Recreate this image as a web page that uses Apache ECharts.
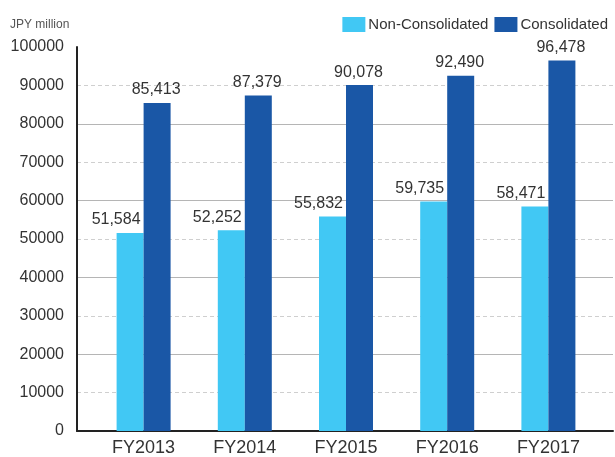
<!DOCTYPE html>
<html><head><meta charset="utf-8">
<script src="https://cdn.jsdelivr.net/npm/echarts@6/dist/echarts.min.js"></script>
<style>html,body{margin:0;padding:0;background:#fff}#c{width:615px;height:457px}</style>
</head><body><div id="c"></div>
<script>
const categories = ['FY2013','FY2014','FY2015','FY2016','FY2017'];
const nonConsolidated = [51584, 52252, 55832, 59735, 58471];
const consolidated = [85413, 87379, 90078, 92490, 96478];
const seriesNames = ['Non-Consolidated','Consolidated'];
const colors = ['#41c8f4','#1a57a6'];
const unitLabel = 'JPY million';

const fmt = v => String(v).replace(/\B(?=(\d{3})+(?!\d))/g, ',');
const font = "'Liberation Sans', Arial, sans-serif";
const chart = echarts.init(document.getElementById('c'));
chart.setOption({
  animation:false,
  textStyle:{fontFamily:font},
  graphic:[{type:'text', left:10, top:19, style:{text:unitLabel, fontSize:12, fill:'#555', fontFamily:font}}],
  legend:{
    right:2, top:12, itemWidth:23, itemHeight:15, itemGap:6,
    textStyle:{fontSize:15, color:'#333', padding:[0,0,0,-2]},
    data:seriesNames, icon:'rect'
  },
  grid:[
    {left:93, right:16, top:47, bottom:26},
    {left:77, right:2, top:47, bottom:26}
  ],
  xAxis:[
    {type:'category', gridIndex:0, data:categories,
     axisLine:{show:false}, axisTick:{show:false},
     axisLabel:{fontSize:18, color:'#333', margin:8}},
    {type:'value', gridIndex:1, min:0, max:1,
     axisLine:{show:true, onZero:false, lineStyle:{color:'#222', width:2}},
     axisTick:{show:false}, axisLabel:{show:false}, splitLine:{show:false}}
  ],
  yAxis:[
    {type:'value', gridIndex:0, min:0, max:100000, interval:10000,
     axisLine:{show:false}, axisTick:{show:false}, axisLabel:{show:false}, splitLine:{show:false}},
    {type:'value', gridIndex:1, min:0, max:100000, interval:10000,
     axisLine:{show:true, lineStyle:{color:'#222', width:2}}, axisTick:{show:false},
     axisLabel:{fontSize:16, color:'#333', margin:13, formatter:v=>String(v)},
     splitLine:{show:true, showMaxLine:false, lineStyle:{color:'#cfcfcf', type:[4,3], width:1}}},
    {type:'value', gridIndex:1, min:0, max:100000, interval:20000,
     axisLine:{show:false}, axisTick:{show:false}, axisLabel:{show:false},
     splitLine:{show:true, showMaxLine:false, lineStyle:{color:'#b5b5b5', type:'solid', width:1}}}
  ],
  series:[
    {name:seriesNames[0], type:'bar', xAxisIndex:0, yAxisIndex:0, data:nonConsolidated,
     barWidth:27, barGap:'0%', itemStyle:{color:colors[0]},
     label:{show:true, position:'top', distance:5, offset:[-14,0], fontSize:16, color:'#333',
            formatter:p=>fmt(p.value)}},
    {name:seriesNames[1], type:'bar', xAxisIndex:0, yAxisIndex:0, data:consolidated,
     barWidth:27, barGap:'0%', itemStyle:{color:colors[1]},
     label:{show:true, position:'top', distance:5, offset:[-1,0], fontSize:16, color:'#333',
            formatter:p=>fmt(p.value)}}
  ]
});
</script></body></html>
